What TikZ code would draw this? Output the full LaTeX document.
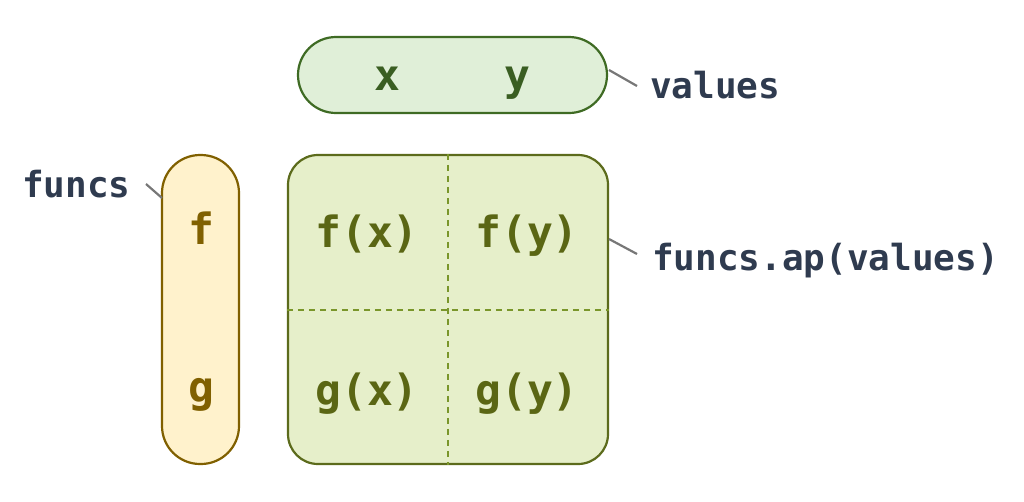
\documentclass[tikz,border=0pt]{standalone}
\usepackage{fontspec}
\setmonofont{DejaVu Sans Mono}
\definecolor{valfill}{HTML}{E0EFD8}
\definecolor{valdraw}{HTML}{3F6B24}
\definecolor{valtext}{HTML}{3A5E22}
\definecolor{funfill}{HTML}{FFF2CC}
\definecolor{fundraw}{HTML}{806000}
\definecolor{gridfill}{HTML}{E6EFCA}
\definecolor{griddraw}{HTML}{5C6B1C}
\definecolor{griddash}{HTML}{7A962A}
\definecolor{gridtext}{HTML}{5A6614}
\definecolor{labtext}{HTML}{2F3B4F}
\definecolor{leader}{HTML}{777777}
\tikzset{
  box/.style={draw, line width=2.2pt, inner sep=0pt},
  celltext/.style={font=\ttfamily\bfseries\fontsize{43}{43}\selectfont, inner sep=0pt, anchor=base},
  labeltext/.style={font=\ttfamily\bfseries\fontsize{36}{36}\selectfont, text=labtext, inner sep=0pt, anchor=base west},
  leaderline/.style={draw=leader, line width=2.2pt},
  divider/.style={draw=griddash, line width=2pt, dash pattern=on 6pt off 5pt}
}
\begin{document}
\begin{tikzpicture}[x=1pt,y=-1pt]
\useasboundingbox (0,0) rectangle (1024,501);
% boxes
\node[box, draw=valdraw, fill=valfill, minimum width=309pt, minimum height=76pt, rounded corners=38pt] (vals) at (452.5,75) {};
\node[box, draw=fundraw, fill=funfill, minimum width=77pt, minimum height=309pt, rounded corners=38pt] (funcsbox) at (200.5,309.5) {};
\node[box, draw=griddraw, fill=gridfill, minimum width=320pt, minimum height=309pt, rounded corners=30pt] (grid) at (448,309.5) {};
% dividers
\draw[divider] (grid.north) -- (grid.south);
\draw[divider] (grid.west) -- (grid.east);
% values text
\node[celltext, text=valtext] (vx) at (387,90) {x};
\node[celltext, text=valtext] (vy) at (517,90) {y};
% funcs text
\node[celltext, text=fundraw] (ff) at (201,244) {f};
\node[celltext, text=fundraw] (fg) at (201,402) {g};
% grid text
\node[celltext, text=gridtext] (fx) at (367,247) {f(x)};
\node[celltext, text=gridtext] (fy) at (527,247) {f(y)};
\node[celltext, text=gridtext] (gx) at (367,405) {g(x)};
\node[celltext, text=gridtext] (gy) at (527,405) {g(y)};
% labels
\node[labeltext] (lvalues) at (650,98) {values};
\node[labeltext] (lfuncs) at (22,197) {funcs};
\node[labeltext] (lap) at (652,270) {funcs.ap(values)};
% leader lines
\coordinate (v1) at (609,70);
\coordinate (v2) at (637,86);
\coordinate (f1) at (146,184);
\coordinate (f2) at (162,198);
\coordinate (a1) at (609,239);
\coordinate (a2) at (637,254);
\draw[leaderline] (v1) -- (v2);
\draw[leaderline] (f1) -- (f2);
\draw[leaderline] (a1) -- (a2);
\end{tikzpicture}
\end{document}
